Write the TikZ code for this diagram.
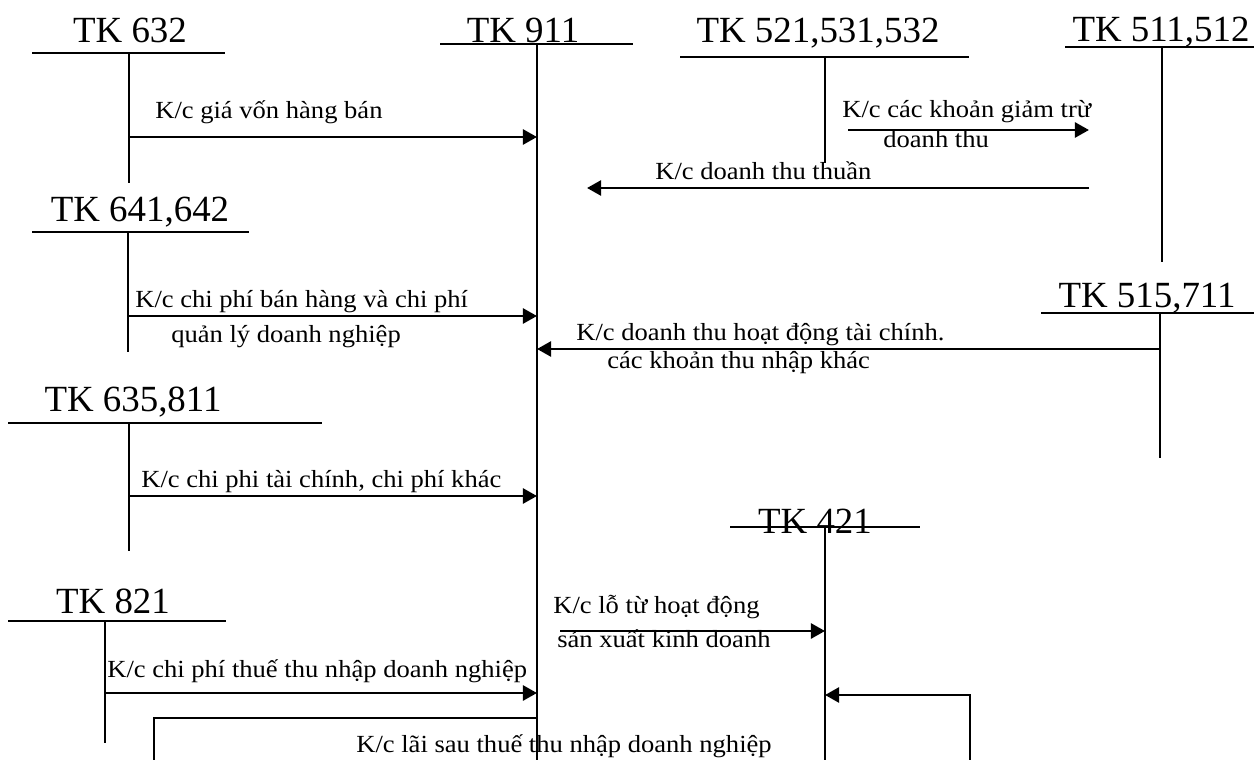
\documentclass[tikz,border=0pt]{standalone}
\usepackage{fontspec}
\setmainfont{Liberation Serif}
\newfontfamily\lblfont[FakeStretch=1.08]{Liberation Serif}
\usetikzlibrary{arrows.meta}

\begin{document}
\begin{tikzpicture}[
  x=0.02cm, y=-0.02cm,
  acct/.style={anchor=base, inner sep=0pt, font=\fontsize{21}{24}\selectfont},
  lbl/.style={anchor=base west, inner sep=0pt, font=\lblfont\fontsize{14}{16}\selectfont},
  tline/.style={line width=1.3pt},
  arrow/.style={-{Triangle[length=8pt,width=8.5pt]}, line width=1.6pt}
]
\useasboundingbox (0,0) rectangle (1254,760);

\node[acct] (t632) at (130,43) {TK 632};
\node[acct] (t911) at (523,43) {TK 911};
\node[acct] (t521) at (818,43) {TK 521,531,532};
\node[acct] (t511) at (1161,42) {TK 511,512};
\node[acct] (t641) at (140,222) {TK 641,642};
\node[acct] (t515) at (1147,307) {TK 515,711};
\node[acct] (t635) at (133,411) {TK 635,811};
\node[acct] (t421) at (815,533) {TK 421};
\node[acct] (t821) at (113,613) {TK 821};

\coordinate (v632) at (129,53);
\coordinate (v911) at (537,44);
\coordinate (v521) at (825,57);
\coordinate (v511) at (1162,47);
\coordinate (v641) at (128,232);
\coordinate (v515) at (1160,313);
\coordinate (v635) at (129,423);
\coordinate (v421) at (825,527);
\coordinate (v821) at (105,621);

\draw[tline] (32,53) -- (225,53) (v632) -- (129,183);
\draw[tline] (440,44) -- (633,44) (v911) -- (537,760);
\draw[tline] (680,57) -- (969,57) (v521) -- (825,163);
\draw[tline] (1065,47) -- (1254,47) (v511) -- (1162,262);
\draw[tline] (32,232) -- (249,232) (v641) -- (128,352);
\draw[tline] (1041,313) -- (1254,313) (v515) -- (1160,458);
\draw[tline] (8,423) -- (322,423) (v635) -- (129,551);
\draw[tline] (730,527) -- (920,527) (v421) -- (825,760);
\draw[tline] (8,621) -- (226,621) (v821) -- (105,743);

\coordinate (gtA) at (848,130);
\coordinate (gtB) at (1089,130);
\coordinate (dtA) at (1089,188);
\coordinate (dtB) at (587,188);
\coordinate (loA) at (560,631);
\coordinate (laiA) at (154,760);
\coordinate (laiB) at (970,760);

\draw[arrow] (v632 |- 0,137) -- (v911 |- 0,137);
\draw[arrow] (gtA) -- (gtB);
\draw[arrow] (dtA) -- (dtB);
\draw[arrow] (v641 |- 0,316) -- (v911 |- 0,316);
\draw[arrow] (v515 |- 0,349) -- (v911 |- 0,349);
\draw[arrow] (v635 |- 0,496) -- (v911 |- 0,496);
\draw[arrow] (loA) -- (v421 |- loA);
\draw[arrow] (v821 |- 0,693) -- (v911 |- 0,693);
\draw[tline] (v911 |- 0,718) -- (laiA |- 0,718) -- (laiA);
\draw[arrow] (laiB) -- (laiB |- 0,695) -- (v421 |- 0,695);

\node[lbl] (l632) at (155,119) {K/c giá vốn hàng bán};
\node[lbl] (l521a) at (842,118) {K/c các khoản giảm trừ};
\node[lbl] (l521b) at (883,148) {doanh thu};
\node[lbl] (l511) at (655,180) {K/c doanh thu thuần};
\node[lbl] (l641a) at (135,307) {K/c chi phí bán hàng và chi phí};
\node[lbl] (l641b) at (171,342) {quản lý doanh nghiệp};
\node[lbl] (l515a) at (576,340) {K/c doanh thu hoạt động tài chính.};
\node[lbl] (l515b) at (607,368) {các khoản thu nhập khác};
\node[lbl] (l635) at (141,487) {K/c chi phi tài chính, chi phí khác};
\node[lbl] (l421a) at (553,613) {K/c lỗ từ hoạt động};
\node[lbl] (l421b) at (557,647) {sản xuất kinh doanh};
\node[lbl] (l821) at (107,677) {K/c chi phí thuế thu nhập doanh nghiệp};
\node[lbl] (llai) at (356,752) {K/c lãi sau thuế thu nhập doanh nghiệp};
\end{tikzpicture}
\end{document}
